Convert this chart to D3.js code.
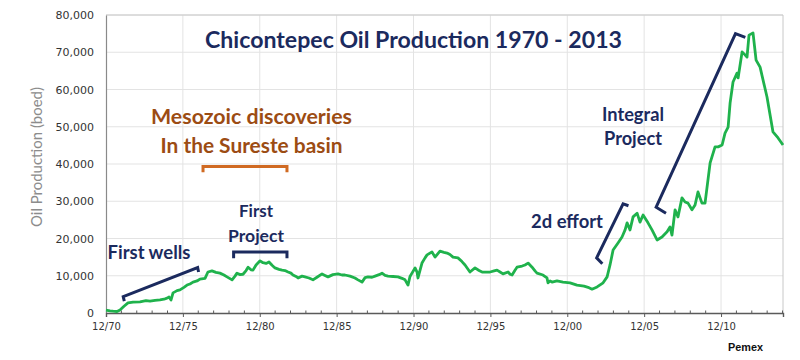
<!DOCTYPE html>
<html>
<head>
<meta charset="utf-8">
<script src="https://cdn.jsdelivr.net/npm/d3@7"></script>
<style>
  html, body { margin: 0; padding: 0; background: #fff; }
  svg { display: block; }
</style>
</head>
<body>
<svg id="chart" width="800" height="360"></svg>
<script>
// ---- Data (decimal year, barrels of oil equivalent per day) ----
const years = [
  1970.92, 1971.18, 1971.38, 1971.64, 1971.83, 1972.09, 1972.35, 1972.68, 1973.13, 1973.52,
  1973.78, 1974.11, 1974.43, 1974.69, 1974.89, 1975.02, 1975.15, 1975.28, 1975.54, 1975.73,
  1975.99, 1976.19, 1976.38, 1976.58, 1976.84, 1977.03, 1977.36, 1977.55, 1977.81, 1978.07,
  1978.33, 1978.59, 1978.79, 1979.12, 1979.31, 1979.44, 1979.64, 1979.83, 1980.03, 1980.16,
  1980.35, 1980.48, 1980.68, 1980.94, 1981.13, 1981.33, 1981.52, 1981.72, 1981.91, 1982.17,
  1982.37, 1982.56, 1982.76, 1982.95, 1983.08, 1983.28, 1983.41, 1983.67, 1983.86, 1984.12,
  1984.38, 1984.64, 1984.97, 1985.16, 1985.36, 1985.68, 1986.01, 1986.27, 1986.46, 1986.79,
  1987.11, 1987.31, 1987.57, 1987.77, 1987.96, 1988.22, 1988.42, 1988.68, 1988.87, 1989.07,
  1989.26, 1989.59, 1989.91, 1990.17, 1990.37, 1990.56, 1990.69, 1990.82, 1991.02, 1991.15,
  1991.21, 1991.47, 1991.67, 1991.80, 1992.12, 1992.32, 1992.64, 1992.90, 1993.10, 1993.29,
  1993.49, 1993.81, 1994.07, 1994.27, 1994.59, 1994.92, 1995.18, 1995.38, 1995.64, 1995.90,
  1996.16, 1996.35, 1996.55, 1996.74, 1997.07, 1997.20, 1997.33, 1997.52, 1997.65, 1997.98,
  1998.17, 1998.37, 1998.63, 1998.82, 1998.95, 1999.34, 1999.60, 1999.67, 1999.80, 1999.93,
  2000.25, 2000.64, 2001.10, 2001.55, 2002.01, 2002.27, 2002.53, 2002.86, 2003.25, 2003.51,
  2003.70, 2003.90, 2004.22, 2004.48, 2004.68, 2004.81, 2005.00, 2005.20, 2005.46, 2005.65,
  2005.85, 2006.17, 2006.43, 2006.76, 2007.08, 2007.41, 2007.60, 2007.73, 2007.93, 2008.12,
  2008.38, 2008.58, 2008.77, 2009.03, 2009.23, 2009.42, 2009.68, 2009.88, 2010.21, 2010.53,
  2010.73, 2010.99, 2011.18, 2011.38, 2011.51, 2011.70, 2011.96, 2012.03, 2012.29, 2012.48,
  2012.61, 2012.74, 2013.00, 2013.20, 2013.46, 2013.91, 2014.30, 2014.63, 2014.95
];
const production = [
  800, 600, 500, 400, 800, 1800, 2700, 2900, 3000, 3300,
  3200, 3400, 3500, 3700, 4000, 4300, 3500, 5400, 6000, 6200,
  6900, 7500, 7800, 8300, 8600, 9100, 9300, 11000, 11300, 10900,
  10700, 10200, 9700, 8900, 9900, 10700, 10300, 10400, 11400, 12300,
  11600, 11500, 12900, 14000, 13500, 13300, 13700, 12800, 12100, 11700,
  11500, 11400, 11000, 10700, 10200, 9800, 9400, 9900, 9700, 9400,
  8900, 9600, 10500, 10100, 9700, 10300, 10500, 10200, 10200, 9900,
  9400, 8900, 8300, 9500, 9700, 9600, 9900, 10300, 10700, 10100,
  9900, 9800, 9700, 9300, 8900, 7500, 9800, 10700, 12100, 11000,
  9400, 13400, 14800, 15600, 16400, 15000, 16600, 16300, 16100, 15700,
  15000, 14800, 13800, 12900, 11000, 12100, 11400, 11000, 11000, 11000,
  11300, 11500, 11000, 10500, 11000, 10400, 10200, 11500, 12300, 12600,
  12900, 13400, 12300, 11300, 10700, 10200, 9400, 8100, 8600, 8300,
  8600, 8300, 8100, 7500, 7200, 6900, 6400, 7000, 8100, 9700,
  12900, 16900, 18800, 20400, 22300, 24200, 22300, 25800, 26800, 24400,
  26300, 24200, 22300, 19600, 20400, 21800, 23100, 20900, 27700, 25800,
  30900, 29800, 29500, 27700, 29000, 32500, 29500, 29500, 40300, 44600,
  44600, 45100, 48300, 49900, 56400, 62000, 64400, 63100, 70100, 69300,
  68700, 74600, 75200, 67900, 66000, 58000, 48600, 47000, 45100
];
const yTickValues = [0, 10000, 20000, 30000, 40000, 50000, 60000, 70000, 80000];
const xMajorTicks = [1970.92, 1975.92, 1980.92, 1985.92, 1990.92, 1995.92, 2000.92, 2005.92, 2010.92];
const xTickLabels = ["12/70", "12/75", "12/80", "12/85", "12/90", "12/95", "12/00", "12/05", "12/10"];
const titleText = "Chicontepec Oil Production 1970 - 2013";
const yAxisLabel = "Oil Production (boed)";
const sourceText = "Pemex";

// ---- Layout ----
const svg = d3.select("#chart");
const margin = { left: 106, top: 15, right: 17, bottom: 47 };
const W = 800, H = 360;
const x = d3.scaleLinear().domain([1970.92, 2014.95]).range([margin.left, W - margin.right]);
const y = d3.scaleLinear().domain([0, 80000]).range([H - margin.bottom, margin.top]);

const navy = "#1b2a5e";
const green = "#1fb24c";

// shrink/grow a text element's font so it spans a target width
function fitWidth(sel, target) {
  const node = sel.node();
  const fs = parseFloat(sel.attr("font-size"));
  const w = node.getComputedTextLength();
  if (w > 0) sel.attr("font-size", (fs * target / w).toFixed(2));
  return sel;
}

// gridlines
svg.append("g").selectAll("line.h").data(yTickValues.slice(1)).join("line")
  .attr("x1", x.range()[0]).attr("x2", x.range()[1])
  .attr("y1", d => y(d)).attr("y2", d => y(d))
  .attr("stroke", "#e3e3e3").attr("stroke-width", 1);
svg.append("g").selectAll("line.v").data(xMajorTicks.slice(1)).join("line")
  .attr("x1", d => x(d)).attr("x2", d => x(d))
  .attr("y1", y.range()[0]).attr("y2", y.range()[1])
  .attr("stroke", "#e3e3e3").attr("stroke-width", 1);

// frame top/right
svg.append("line").attr("x1", x.range()[0]).attr("x2", x.range()[1])
  .attr("y1", y(80000)).attr("y2", y(80000)).attr("stroke", "#c8c8c8");
svg.append("line").attr("x1", x.range()[1]).attr("x2", x.range()[1])
  .attr("y1", y(0)).attr("y2", y(80000)).attr("stroke", "#c8c8c8");

// y axis
const yAxis = d3.axisLeft(y).tickValues(yTickValues).tickSize(0).tickPadding(12)
  .tickFormat(d3.format(","));
const gy = svg.append("g").attr("transform", `translate(${margin.left},0)`).call(yAxis);
gy.select(".domain").attr("stroke", "#8a8a8a").attr("stroke-width", 1.2);
gy.selectAll("text").attr("font-family", "DejaVu Sans").attr("font-size", 11).attr("fill", "#333");

// x axis
const xAxis = d3.axisBottom(x).tickValues(xMajorTicks).tickSize(4).tickPadding(6)
  .tickFormat((d, i) => xTickLabels[i]);
const gx = svg.append("g").attr("transform", `translate(0,${y(0)})`).call(xAxis);
gx.select(".domain").attr("stroke", "#5a5a5a").attr("stroke-width", 1.4);
gx.selectAll(".tick line").attr("stroke", "#5a5a5a");
gx.selectAll("text").attr("font-family", "DejaVu Sans").attr("font-size", 10).attr("fill", "#333");
// minor ticks (yearly)
const minor = d3.range(1971.92, 2014.95, 1).filter(v => {
  const r = (v - 1970.92) % 5;
  return r > 0.01 && r < 4.99;
});
svg.append("g").selectAll("line").data(minor).join("line")
  .attr("x1", d => x(d)).attr("x2", d => x(d))
  .attr("y1", y(0) - 2.5).attr("y2", y(0))
  .attr("stroke", "#5a5a5a").attr("stroke-width", 1);

// y axis label
const yl = svg.append("text")
  .attr("transform", `translate(42,157) rotate(-90)`)
  .attr("text-anchor", "middle")
  .attr("font-family", "Lato").attr("font-size", 14.5)
  .attr("fill", "#8c8c8c").text(yAxisLabel);
fitWidth(yl, 140);

// line
const pts = years.map((t, i) => [t, production[i]]);
svg.append("path").datum(pts)
  .attr("fill", "none").attr("stroke", green).attr("stroke-width", 2.8)
  .attr("stroke-linejoin", "round")
  .attr("d", d3.line().x(d => x(d[0])).y(d => y(d[1])));

// title
const tt = svg.append("text").attr("x", 413.5).attr("y", 48).attr("text-anchor", "middle")
  .attr("font-family", "Lato").attr("font-weight", "bold").attr("font-size", 24)
  .attr("fill", navy).text(titleText);
fitWidth(tt, 417);

// annotations helper: lines = [[text, targetWidth], ...]
function ann(lines, cx, cy, size, color, lh) {
  lines.forEach(([s, w], i) => {
    const t = svg.append("text").attr("text-anchor", "middle")
      .attr("x", cx).attr("y", cy + i * lh)
      .attr("font-family", "Lato").attr("font-weight", "bold").attr("font-size", size)
      .attr("fill", color).text(s);
    fitWidth(t, w);
  });
}
function poly(points, color) {
  svg.append("path").datum(points)
    .attr("fill", "none").attr("stroke", color).attr("stroke-width", 3)
    .attr("stroke-linejoin", "miter")
    .attr("d", d3.line().x(d => x(d[0])).y(d => y(d[1])));
}

// Mesozoic
ann([["Mesozoic discoveries", 201], ["In the Sureste basin", 182]], 251.5, 124, 20, "#9c4c13", 29);
poly([[1977.23, 37800], [1977.23, 39300], [1982.69, 39300], [1982.69, 37800]], "#d06a22");

// First project
ann([["First", 34], ["Project", 56]], 256, 217, 16.5, navy, 25);
poly([[1979.22, 14700], [1979.22, 16400], [1982.69, 16400], [1982.69, 14700]], navy);

// First wells
ann([["First wells", 83]], 149, 259, 16.5, navy, 0);
poly([[1972.11, 3200], [1972.04, 4400], [1976.88, 12200], [1976.94, 11000]], navy);

// 2d effort
ann([["2d effort", 72]], 567, 228, 16.5, navy, 0);
poly([[2003.2, 13200], [2002.83, 14800], [2004.55, 29300], [2004.9, 28800]], navy);

// Integral project
ann([["Integral", 62], ["Project", 58]], 633, 121, 16.5, navy, 24);
poly([[2007.34, 26800], [2006.7, 28400], [2011.86, 75000], [2012.5, 74000]], navy);

// source
const src = svg.append("text").attr("x", 745.5).attr("y", 351).attr("text-anchor", "middle")
  .attr("font-family", "Liberation Sans").attr("font-weight", "bold").attr("font-size", 10.5)
  .attr("fill", "#111").text(sourceText);
fitWidth(src, 35);
</script>
</body>
</html>
